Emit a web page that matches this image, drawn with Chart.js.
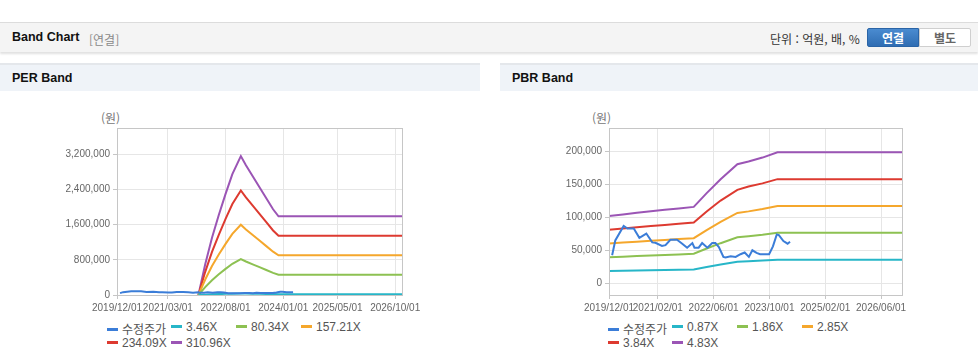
<!DOCTYPE html>
<html lang="ko">
<head>
<meta charset="utf-8">
<title>Band Chart</title>
<script src="https://cdn.jsdelivr.net/npm/chart.js@4"></script>
<style>
  body { margin:0; background:#fff; font-family:"Liberation Sans","Noto Sans CJK KR",sans-serif; }
  #page { position:relative; width:978px; height:361px; overflow:hidden; }
  .topbar { position:absolute; left:0; top:22px; width:978px; height:29px; background:#f4f4f4;
            border-top:1px solid #dcdcdc; box-shadow:0 2px 2px rgba(0,0,0,0.12); }
  .title { position:absolute; left:12px; top:7px; font-size:12.5px; font-weight:bold; color:#111; }
  .sub { position:absolute; left:89px; top:8px; font-size:12px; color:#8a8a8a; font-family:"Noto Sans CJK KR",sans-serif; }
  .unit { position:absolute; left:770px; top:7px; font-size:12px; color:#333; font-family:"Noto Sans CJK KR",sans-serif; }
  .btn { position:absolute; top:5px; width:50px; height:17px; font-size:12px; font-weight:bold; text-align:center;
         line-height:17px; font-family:"Noto Sans CJK KR",sans-serif; }
  .btn.on { left:867px; background:linear-gradient(#4a8bd0,#2f6db3); color:#fff; border:1px solid #2a64a6; border-radius:2px 0 0 2px; }
  .btn.off { left:919px; background:#fff; color:#666; border:1px solid #cfcfcf; border-radius:0 2px 2px 0; }
  .phead { position:absolute; top:63px; height:26px; background:#eff3f8; border-top:2px solid #e4e7eb; }
  .phead span { position:absolute; left:12px; top:6px; font-size:12.5px; font-weight:bold; color:#111; }
  .box { position:absolute; top:95px; height:225px; }
  .unitlbl { position:absolute; top:109px; font-size:12px; color:#777; font-family:"Noto Sans CJK KR",sans-serif; }
  .legend { position:absolute; top:320px; height:40px; font-size:12px; color:#555; }
  .legend div { position:absolute; white-space:nowrap; }
  .legend i { display:inline-block; width:11px; height:3px; margin-right:4px; vertical-align:middle; position:relative; top:-1px; }
</style>
</head>
<body>
<div id="page">
  <div class="topbar">
    <div class="title">Band Chart</div>
    <div class="sub">[연결]</div>
    <div class="unit">단위 : 억원, 배, %</div>
    <div class="btn on">연결</div>
    <div class="btn off">별도</div>
  </div>
  <div class="phead" style="left:0;width:480px"><span>PER Band</span></div>
  <div class="phead" style="left:500px;width:478px"><span>PBR Band</span></div>

  <div class="unitlbl" style="left:101px">(원)</div>
  <div class="unitlbl" style="left:592px">(원)</div>

  <div class="box" style="left:0;width:480px"><canvas id="perChart"></canvas></div>
  <div class="box" style="left:500px;width:478px"><canvas id="pbrChart"></canvas></div>

  <div class="legend" id="perLegend" style="left:107px;width:370px"></div>
  <div class="legend" id="pbrLegend" style="left:608px;width:370px"></div>
</div>

<script>
// x 축 눈금 (날짜)
const perXTicks = ["2019/12/01", "2021/03/01", "2022/08/01", "2024/01/01", "2025/05/01", "2026/10/01"];
const pbrXTicks = ["2019/12/01", "2021/02/01", "2022/06/01", "2023/10/01", "2025/02/01", "2026/06/01"];
const perYTicks = [0, 800000, 1600000, 2400000, 3200000];
const pbrYTicks = [0, 50000, 100000, 150000, 200000];

// 수정주가 (2019/12 기준 개월 수)
const priceMonths = [0.9, 1.8, 4.2, 5.3, 7.1, 8.7, 10.7, 12.4, 13.3, 15.2, 16.2, 17.6, 19.5, 21, 22.4, 23.9, 24.5,
  25.7, 26.7, 28.2, 29.6, 30.5, 31.5, 32.8, 33.4, 34.9, 36.3, 37.7, 38.9, 40.1, 41.1, 42.3, 43.3, 45.9, 47,
  48.1, 48.7, 50, 51.2, 51.9];
const priceValues = [42500, 65000, 87000, 83000, 83000, 69000, 75500, 62000, 61500, 56700, 57800, 66000, 66000,
  60000, 54000, 61000, 54000, 54000, 61000, 54000, 61000, 61000, 55000, 40000, 39000, 41000, 40000, 44000,
  46600, 40000, 50000, 46000, 44000, 44000, 56000, 74000, 73000, 64000, 60000, 63000];

// PER 밴드
const perLabels = ["3.46X", "80.34X", "157.21X", "234.09X", "310.96X"];
const perMonths = [24, 26, 28, 30, 32, 34, 36.5, 38, 40, 42, 44, 46, 47.6, 84];
const per1 = [0, 8000, 14500, 20300, 25600, 30600, 35200, 32800, 30000, 27300, 24500, 21700, 19900, 19900];
const per2 = [0, 180000, 337000, 470000, 594000, 711000, 817000, 762000, 698000, 633000, 568000, 504000, 463000, 463000];
const per3 = [0, 353000, 660000, 920000, 1163000, 1390000, 1598000, 1491000, 1365000, 1239000, 1112000, 986000, 905000, 905000];
const per4 = [0, 527000, 982000, 1370000, 1731000, 2070000, 2379000, 2221000, 2033000, 1844000, 1656000, 1468000, 1347000, 1347000];
const per5 = [0, 700000, 1305000, 1820000, 2300000, 2750000, 3160000, 2950000, 2700000, 2450000, 2200000, 1950000, 1790000, 1790000];

// PBR 밴드
const pbrLabels = ["0.87X", "1.86X", "2.85X", "3.84X", "4.83X"];
const pbrMonths = [0, 4, 8, 12, 16, 20, 24.3, 28, 32, 36.8, 40, 44, 48.3, 84];
const pbr1 = [18400, 18800, 19300, 19700, 20100, 20400, 20900, 24700, 28400, 32600, 33300, 34400, 35800, 35800];
const pbr2 = [39300, 40200, 41200, 42200, 42900, 43700, 44700, 52700, 60800, 69700, 71200, 73500, 76600, 76600];
const pbr3 = [60200, 61700, 63100, 64600, 65800, 67000, 68400, 80800, 93200, 106800, 109200, 112700, 117400, 117400];
const pbr4 = [81100, 83100, 85100, 87100, 88600, 90200, 92200, 108900, 125600, 142000, 147100, 151800, 158200, 158200];
const pbr5 = [102000, 104500, 107000, 109500, 111500, 113500, 116000, 137000, 158000, 181000, 185000, 191000, 199000, 199000];

const colors = ["#3b7dd8", "#27b6c8", "#8dc152", "#f5a72c", "#dd3a30", "#9b55b5"];

// 날짜 문자열 -> 2019/12 기준 개월
function monthOf(s){
    const [y, m] = s.split("/").map(Number);
    return (y - 2019) * 12 + (m - 12);
}

function pts(xs, ys){
    return xs.map((x, i) => ({x: x, y: ys[i]}));
}

// 플롯 테두리
const frame = {
    id: "frame",
    afterDraw(chart){
        const a = chart.chartArea, ctx = chart.ctx;
        ctx.save();
        ctx.strokeStyle = "#c6c6c6";
        ctx.lineWidth = 1;
        ctx.strokeRect(Math.round(a.left) + 0.5, Math.round(a.top) + 0.5,
            Math.round(a.right - a.left), Math.round(a.bottom - a.top));
        ctx.restore();
    }
};

function makeChart(id, xTicks, yTicks, yMin, yMax, leftW, rightPad, bandMonths, bands, labels){
    const datasets = [{label: "수정주가", data: pts(priceMonths, priceValues)}];
    bands.forEach((b, i) => datasets.push({label: labels[i], data: pts(bandMonths, b)}));
    datasets.forEach((d, i) => {
        d.borderColor = colors[i];
        d.backgroundColor = colors[i];
        d.borderWidth = 2;
        d.pointRadius = 0;
        d.tension = 0;
        d.fill = false;
    });

    const font = {family: "'Liberation Sans', Arial, sans-serif", size: 10};
    return new Chart(document.getElementById(id), {
        type: "line",
        data: {datasets: datasets},
        plugins: [frame],
        options: {
            animation: false,
            responsive: true,
            maintainAspectRatio: false,
            events: [],
            layout: {padding: {top: 33, right: rightPad, left: 0, bottom: 0}},
            plugins: {legend: {display: false}, tooltip: {enabled: false}},
            scales: {
                x: {
                    type: "linear",
                    min: 0,
                    max: 84,
                    afterBuildTicks: s => { s.ticks = xTicks.map(t => ({value: monthOf(t)})); },
                    afterFit: s => { s.height = 25; },
                    ticks: {
                        color: "#666", font: font, padding: 3, maxRotation: 0, autoSkip: false,
                        callback: v => xTicks.find(t => monthOf(t) === v) || ""
                    },
                    grid: {color: "#e6e6e6", tickLength: 4, tickColor: "#c6c6c6"},
                    border: {display: false}
                },
                y: {
                    min: yMin,
                    max: yMax,
                    afterBuildTicks: s => { s.ticks = yTicks.map(v => ({value: v})); },
                    afterFit: s => { s.width = leftW; },
                    ticks: {
                        color: "#666", font: font, padding: 3,
                        callback: v => v.toLocaleString("en-US")
                    },
                    grid: {color: "#e6e6e6", tickLength: 4, tickColor: "#c6c6c6"},
                    border: {display: false}
                }
            }
        }
    });
}

function makeLegend(id, labels){
    const colX = [0, 64, 129, 194];
    const el = document.getElementById(id);
    ["수정주가"].concat(labels).forEach((l, i) => {
        const d = document.createElement("div");
        d.style.left = colX[i % 4] + "px";
        d.style.top = (i < 4 ? 0 : 16) + "px";
        d.innerHTML = `<i style="background:${colors[i]}"></i>${l}`;
        el.appendChild(d);
    });
}

makeChart("perChart", perXTicks, perYTicks, 0, 3800000, 117, 78, perMonths, [per1, per2, per3, per4, per5], perLabels);
makeChart("pbrChart", pbrXTicks, pbrYTicks, -18000, 236000, 109, 76, pbrMonths, [pbr1, pbr2, pbr3, pbr4, pbr5], pbrLabels);
makeLegend("perLegend", perLabels);
makeLegend("pbrLegend", pbrLabels);
</script>
</body>
</html>
